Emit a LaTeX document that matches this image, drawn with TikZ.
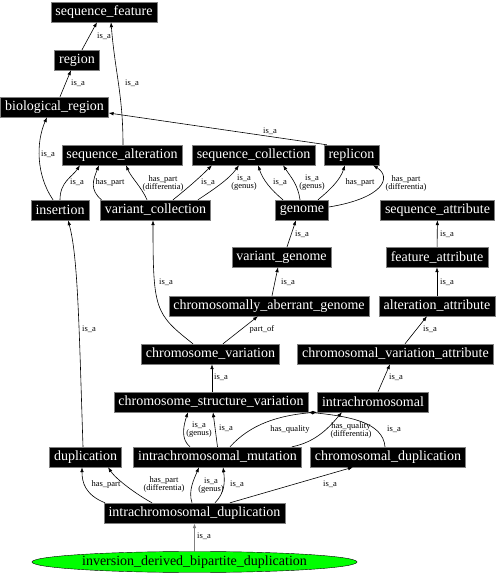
\documentclass[tikz,border=0pt]{standalone}
\usepackage{fontspec}
\setmainfont{Liberation Serif}
\usepackage{xcolor}
\usepackage{tikz}
\usetikzlibrary{arrows.meta,shapes.geometric}

\begin{document}
\begin{tikzpicture}[x=1pt, y=1pt, >={Latex[length=5pt,width=3.6pt]},
    term/.style={rectangle, draw=gray, fill=black, text=white, font=\fontsize{14}{14}\selectfont, inner xsep=4.5pt, inner ysep=0pt, minimum height=20pt},
    lbl/.style={font=\fontsize{8.5}{8}\selectfont, align=center, inner sep=0pt},
    edge/.style={->, black, line width=0.6pt}]
    \useasboundingbox (0,0) rectangle (499,576);
    % Nodes
    \node (seqfeat) [term] at (104,564) {sequence\_feature};
    \node (region) [term] at (77,516) {region};
    \node (bioreg) [term] at (54.5,469) {biological\_region};
    \node (seqalt) [term] at (122,421) {sequence\_alteration};
    \node (seqcoll) [term] at (253.5,421) {sequence\_collection};
    \node (replicon) [term] at (351.5,421) {replicon};
    \node (insertion) [term] at (60,366) {insertion};
    \node (varcoll) [term] at (155.5,366) {variant\_collection};
    \node (genome) [term] at (302,366) {genome};
    \node (seqattr) [term] at (437.5,366) {sequence\_attribute};
    \node (vargen) [term] at (281.5,319) {variant\_genome};
    \node (featattr) [term] at (437,319) {feature\_attribute};
    \node (chrabgen) [term] at (269,270) {chromosomally\_aberrant\_genome};
    \node (altattr) [term] at (437,270) {alteration\_attribute};
    \node (chrvar) [term] at (210.5,222) {chromosome\_variation};
    \node (chrvarattr) [term] at (395.5,222) {chromosomal\_variation\_attribute};
    \node (csv) [term] at (211,174) {chromosome\_structure\_variation};
    \node (intrachr) [term] at (373,174) {intrachromosomal};
    \node (dup) [term] at (85.5,119) {duplication};
    \node (icmut) [term] at (217.5,119) {intrachromosomal\_mutation};
    \node (chrdup) [term] at (388,119) {chromosomal\_duplication};
    \node (icdup) [term] at (194.5,63) {intrachromosomal\_duplication};
    \node (idbd) [ellipse, draw=black, fill=green, inner sep=0pt, minimum width=325pt, minimum height=21pt, font=\fontsize{14}{14}\selectfont] at (194.5,14) {inversion\_derived\_bipartite\_duplication};

    % Edges
    \draw[edge] ([xshift=5pt]region.north) -- ([xshift=-7pt]seqfeat.south) node[lbl] at (104,540) {is\_a};
    \draw[edge] ([xshift=1pt]seqalt.north) .. controls +(0,50) and +(4,-50) .. ([xshift=7pt]seqfeat.south) node[lbl] at (132,493) {is\_a};
    \draw[edge] ([xshift=5.5pt]bioreg.north) -- ([xshift=-6pt]region.south) node[lbl] at (78,493) {is\_a};
    \draw[edge] ([xshift=3pt]replicon.north west) -- ([yshift=-6pt]bioreg.east) node[lbl] at (270,445) {is\_a};
    \draw[edge] ([xshift=-7pt]insertion.north) .. controls +(-17,25) and +(-11,-25) .. ([xshift=-7.5pt]bioreg.south) node[lbl] at (48,422) {is\_a};
    \draw[edge] (insertion.north) .. controls +(0,18) and +(-8,-12) .. ([xshift=-42pt]seqalt.south) node[lbl] at (77,394) {is\_a};
    \draw[edge] ([xshift=-54pt]varcoll.north) .. controls +(-12,10) and +(-6,-15) .. ([xshift=-23pt]seqalt.south) node[lbl] at (110,394) {has\_part};
    \draw[edge] ([xshift=-8.5pt]varcoll.north) .. controls +(-5,12) and +(5,-12) .. ([xshift=4pt]seqalt.south) node[lbl] at (163,393) {has\_part\\(differentia)};
    \draw[edge] ([xshift=17.5pt]varcoll.north) .. controls +(15,12) and +(-12,-12) .. ([xshift=-41.5pt]seqcoll.south) node[lbl] at (208,394) {is\_a};
    \draw[edge] ([xshift=42.5pt]varcoll.north) .. controls +(15,10) and +(-10,-14) .. ([xshift=-14.5pt]seqcoll.south) node[lbl] at (244,393) {is\_a\\(genus)};
    \draw[edge] ([xshift=-19pt]genome.north) .. controls +(-12,10) and +(5,-15) .. ([xshift=4.5pt]seqcoll.south) node[lbl] at (280,394) {is\_a};
    \draw[edge] ([xshift=-2pt]genome.north) .. controls +(-2,15) and +(8,-12) .. ([xshift=29.5pt]seqcoll.south) node[lbl] at (312,393) {is\_a\\(genus)};
    \draw[edge] ([xshift=16pt]genome.north) .. controls +(12,10) and +(-5,-15) .. ([xshift=-6.5pt]replicon.south) node[lbl] at (360,394) {has\_part};
    \draw[edge] ([yshift=3pt]genome.east) .. controls +(55,9) and +(19,-12) .. ([xshift=21.5pt]replicon.south) node[lbl] at (406,393) {has\_part\\(differentia)};
    \draw[edge] ([xshift=5.5pt]vargen.north) -- ([xshift=-6pt]genome.south) node[lbl] at (302,342) {is\_a};
    \draw[edge] ([xshift=3pt]chrabgen.north) -- ([xshift=-3.5pt]vargen.south) node[lbl] at (288,294) {is\_a};
    \draw[edge] ([xshift=-17.5pt]chrvar.north) .. controls +(-38,30) and +(0,-90) .. ([xshift=-2.5pt]varcoll.south) node[lbl] at (166,294) {is\_a};
    \draw[edge] ([xshift=12.5pt]chrvar.north) -- ([xshift=-11pt]chrabgen.south) node[lbl] at (262,247) {part\_of};
    \draw[edge] (featattr) -- (seqattr) node[lbl] at (447,342) {is\_a};
    \draw[edge] (altattr) -- (featattr) node[lbl] at (447,294) {is\_a};
    \draw[edge] ([xshift=9.5pt]chrvarattr.north) -- ([xshift=-10pt]altattr.south) node[lbl] at (430,247) {is\_a};
    \draw[edge] ([xshift=5pt]intrachr.north) -- ([xshift=-5.5pt]chrvarattr.south) node[lbl] at (396,199) {is\_a};
    \draw[edge] ([xshift=1pt]csv.north) -- ([xshift=1.5pt]chrvar.south) node[lbl] at (221,199) {is\_a};
    \draw[edge] ([xshift=-2.5pt]dup.north) .. controls +(-4,121) and +(10,-36) .. ([xshift=8pt]insertion.south) node[lbl] at (89,247) {is\_a};
    \draw[edge] ([xshift=-27.5pt]icmut.north) .. controls +(-10,8) and +(-4,-12) .. ([xshift=-23pt]csv.south) node[lbl] at (199,146) {is\_a\\(genus)};
    \draw[edge] (icmut.north) -- ([xshift=2pt]csv.south) node[lbl] at (226,148) {is\_a};
    \draw[edge] ([xshift=12.5pt]icmut.north) .. controls +(20,22) and +(-40,-3) .. (intrachr.south west) node[lbl] at (290,147) {has\_quality};
    \draw[edge] ([xshift=74.5pt]icmut.north) .. controls +(25,5) and +(-12,-14) .. ([xshift=-31pt]intrachr.south) node[lbl] at (351,146) {has\_quality\\(differentia)};
    \draw[edge] ([xshift=-3pt]chrdup.north) .. controls +(-2,25) and +(40,-4) .. (csv.south east) node[lbl] at (394,147) {is\_a};
    \draw[edge] ([xshift=-89.5pt]icdup.north) .. controls +(-20,8) and +(0,-15) .. ([xshift=-3.5pt]dup.south) node[lbl] at (106,92) {has\_part};
    \draw[edge] ([xshift=-42.5pt]icdup.north) .. controls +(-15,8) and +(8,-12) .. ([xshift=22.5pt]dup.south) node[lbl] at (164,92) {has\_part\\(differentia)};
    \draw[edge] ([xshift=-2.5pt]icdup.north) .. controls +(-4,12) and +(-5,-12) .. ([xshift=-18.5pt]icmut.south) node[lbl] at (211,90) {is\_a\\(genus)};
    \draw[edge] ([xshift=20.5pt]icdup.north) .. controls +(10,10) and +(2,-14) .. ([xshift=5.5pt]icmut.south) node[lbl] at (237,92) {is\_a};
    \draw[edge] ([xshift=35.5pt]icdup.north) -- ([xshift=-35pt]chrdup.south) node[lbl] at (330,92) {is\_a};
    \draw[edge, gray, line width=1.6pt] (idbd) -- (icdup) node[lbl, black] at (204,40) {is\_a};
\end{tikzpicture}
\end{document}
